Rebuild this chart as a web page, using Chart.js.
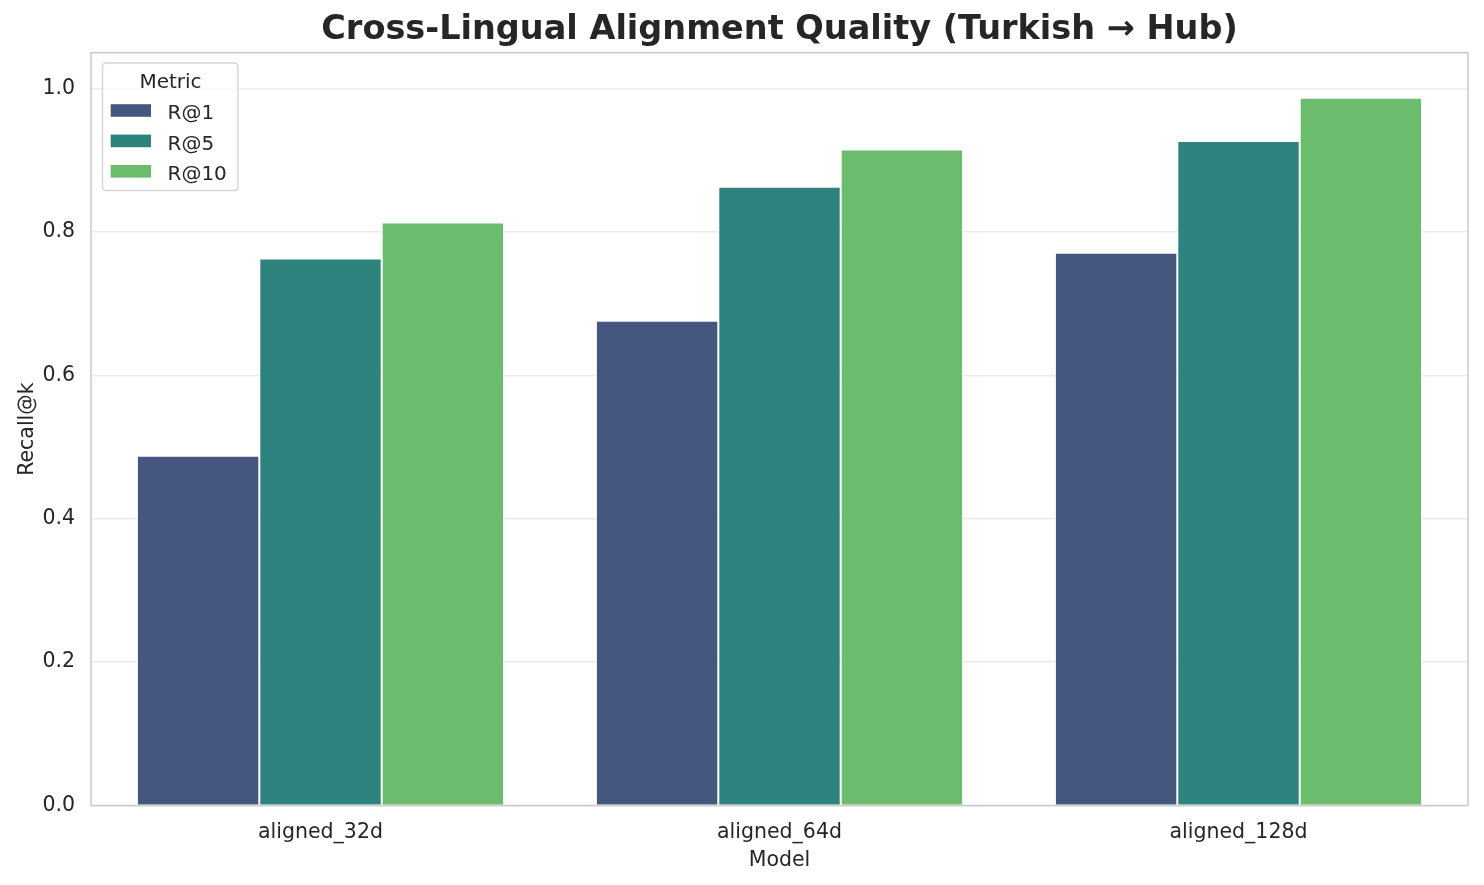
<!DOCTYPE html>
<html>
<head>
<meta charset="utf-8">
<script src="https://cdn.jsdelivr.net/npm/chart.js@4/dist/chart.umd.min.js"></script>
<style>
  html, body { margin: 0; padding: 0; background: #ffffff; }
  #wrap { width: 1484px; height: 885px; position: relative; }
</style>
</head>
<body>
<div id="wrap"><canvas id="c" width="1484" height="885"></canvas></div>
<script>
const categories = ['aligned_32d', 'aligned_64d', 'aligned_128d'];
const metricNames = ['R@1', 'R@5', 'R@10'];
const r1Values = [0.488, 0.676, 0.771];
const r5Values = [0.763, 0.863, 0.927];
const r10Values = [0.813, 0.915, 0.987];
const yTickValues = [0.0, 0.2, 0.4, 0.6, 0.8, 1.0];
const chartTitle = 'Cross-Lingual Alignment Quality (Turkish \u2192 Hub)';
const xTitle = 'Model';
const yTitle = 'Recall@k';
const legendTitle = 'Metric';

const colors = ['#45567f', '#2f837f', '#6cbc6e'];
const FONT = '"DejaVu Sans", sans-serif';
const TEXT = '#262626';

const titlePlugin = {
  id: 'titlePlugin',
  afterDraw(chart) {
    const { ctx, chartArea } = chart;
    ctx.save();
    ctx.font = 'bold 33.5px ' + FONT;
    ctx.fillStyle = TEXT;
    ctx.textAlign = 'center';
    ctx.textBaseline = 'alphabetic';
    ctx.fillText(chartTitle, (chartArea.left + chartArea.right) / 2, 38.5);
    ctx.restore();
  }
};

const framePlugin = {
  id: 'framePlugin',
  afterDatasetsDraw(chart) {
    const { ctx, chartArea } = chart;
    ctx.save();
    ctx.strokeStyle = '#cccccc';
    ctx.lineWidth = 1.6;
    ctx.strokeRect(chartArea.left, chartArea.top, chartArea.right - chartArea.left, chartArea.bottom - chartArea.top);
    ctx.restore();
  }
};

const legendPlugin = {
  id: 'legendPlugin',
  afterDraw(chart) {
    const { ctx } = chart;
    const x0 = 102.5, y0 = 63, w = 135.5, h = 127.5, r = 4;
    ctx.save();
    ctx.beginPath();
    ctx.moveTo(x0 + r, y0);
    ctx.lineTo(x0 + w - r, y0);
    ctx.quadraticCurveTo(x0 + w, y0, x0 + w, y0 + r);
    ctx.lineTo(x0 + w, y0 + h - r);
    ctx.quadraticCurveTo(x0 + w, y0 + h, x0 + w - r, y0 + h);
    ctx.lineTo(x0 + r, y0 + h);
    ctx.quadraticCurveTo(x0, y0 + h, x0, y0 + h - r);
    ctx.lineTo(x0, y0 + r);
    ctx.quadraticCurveTo(x0, y0, x0 + r, y0);
    ctx.closePath();
    ctx.fillStyle = 'rgba(255,255,255,0.8)';
    ctx.fill();
    ctx.strokeStyle = '#d6d6d6';
    ctx.lineWidth = 1.4;
    ctx.stroke();

    ctx.font = '20px ' + FONT;
    ctx.fillStyle = TEXT;
    ctx.textAlign = 'center';
    ctx.textBaseline = 'alphabetic';
    ctx.fillText(legendTitle, 170.5, 87.7);

    ctx.textAlign = 'left';
    chart.data.datasets.forEach((ds, i) => {
      const cy = 110.5 + i * 30.4;
      ctx.fillStyle = ds.backgroundColor;
      ctx.fillRect(110.7, cy - 6.3, 40.3, 12.6);
      ctx.fillStyle = TEXT;
      ctx.fillText(ds.label, 167.5, cy + 8.6);
    });
    ctx.restore();
  }
};

const datasets = [r1Values, r5Values, r10Values].map((vals, i) => ({
  label: metricNames[i],
  data: vals,
  backgroundColor: colors[i],
  borderColor: '#ffffff',
  borderWidth: 1,
  borderSkipped: 'start',
  categoryPercentage: 0.8,
  barPercentage: 1.0
}));

new Chart(document.getElementById('c'), {
  type: 'bar',
  data: { labels: categories, datasets },
  options: {
    responsive: false,
    animation: false,
    devicePixelRatio: 1,
    layout: { padding: { top: 52.7, right: 16, bottom: 0, left: 0 } },
    plugins: {
      legend: { display: false },
      title: { display: false },
      tooltip: { enabled: false }
    },
    scales: {
      x: {
        grid: { display: false, drawTicks: false },
        border: { display: false },
        ticks: {
          color: TEXT,
          font: { family: FONT, size: 20.5 },
          padding: 15
        },
        title: {
          display: true,
          text: xTitle,
          color: TEXT,
          font: { family: FONT, size: 20.5 },
          padding: { top: 0, bottom: 12 }
        },
        afterFit(scale) { scale.height = 885 - 805.5; }
      },
      y: {
        min: 0,
        max: 1.05,
        grid: { color: '#ebebeb', lineWidth: 1.4, drawTicks: false },
        border: { display: false },
        afterBuildTicks(scale) { scale.ticks = yTickValues.map(v => ({ value: v })); },
        ticks: {
          color: TEXT,
          font: { family: FONT, size: 20.5 },
          padding: 16,
          callback: (v) => Number(v).toFixed(1)
        },
        title: {
          display: true,
          text: yTitle,
          color: TEXT,
          font: { family: FONT, size: 20.5 },
          padding: { top: 15, bottom: 0 }
        },
        afterFit(scale) { scale.width = 91; }
      }
    }
  },
  plugins: [titlePlugin, framePlugin, legendPlugin]
});
</script>
</body>
</html>
